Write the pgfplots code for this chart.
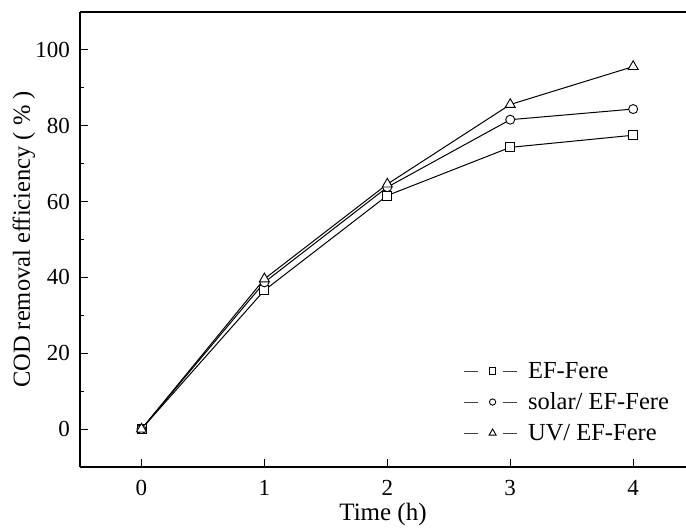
\documentclass[border=0pt]{standalone}
\usepackage{fontspec}
\setmainfont{Liberation Serif}
\usepackage{pgfplots}
\pgfplotsset{compat=1.18}

\begin{document}
\begin{tikzpicture}
\begin{axis}[
  scale only axis,
  width=606bp, height=455bp,
  xmin=-0.5, xmax=4.43, ymin=-10, ymax=110,
  axis x line=box, axis y line=left,
  x axis line style={-}, y axis line style={-},
  axis line style={line width=1.3bp},
  xtick={0,1,2,3,4}, ytick={0,20,40,60,80,100},
  minor y tick num=1,
  xtick pos=left, ytick pos=left,
  tick align=inside,
  major tick length=8bp, minor tick length=4bp,
  every tick/.style={line width=1bp, black},
  /pgf/number format/assume math mode=true,
  ticklabel style={font=\fontsize{23bp}{26bp}\selectfont, inner sep=0pt},
  xticklabel style={anchor=center, yshift=-21bp},
  yticklabel style={anchor=east, xshift=-10bp},
  xlabel={Time (h)},
  ylabel={COD removal efficiency ( \% )},
  every axis x label/.style={at={(rel axis cs:0.5,0)}, anchor=center, yshift=-47bp,
    font=\fontsize{25bp}{28bp}\selectfont, inner sep=0pt},
  every axis y label/.style={at={(rel axis cs:0,0.5)}, anchor=center, rotate=90, yshift=56bp,
    font=\fontsize{24.5bp}{28bp}\selectfont},
  legend style={at={(0.632,0.235)}, anchor=north west, draw=none, fill=none,
    font=\fontsize{24.5bp}{28bp}\selectfont, row sep=9bp, inner sep=0pt},
  legend cell align=left,
  legend image code/.code={
    \draw[#1,mark=none,black!75,line width=0.8bp] (0bp,0bp) -- (14bp,0bp);
    \draw[#1,mark=none,black!75,line width=0.8bp] (39bp,0bp) -- (53bp,0bp);
    \draw[#1,every mark/.append style={scale=0.7}] plot coordinates {(29bp,0bp)};
    \path (62bp,0bp);
  },
]
\addplot[black, line width=1bp, mark=square*, mark size=4.5bp,
  mark options={fill=white, draw=black, line width=0.9bp, solid}]
  coordinates {(0,0) (1,36.6) (2,61.6) (3,74.3) (4,77.5)};
\addlegendentry{EF-Fere}
\addplot[black, line width=1bp, mark=*, mark size=4.5bp,
  mark options={fill=white, draw=black, line width=0.9bp, solid}]
  coordinates {(0,0) (1,38.7) (2,63.8) (3,81.6) (4,84.4)};
\addlegendentry{solar/ EF-Fere}
\addplot[black, line width=1bp, mark=triangle*, mark size=5.8bp,
  mark options={fill=white, draw=black, line width=0.9bp, solid}]
  coordinates {(0,0) (1,39.6) (2,64.6) (3,85.6) (4,95.6)};
\addlegendentry{UV/ EF-Fere}
\coordinate (bl) at (rel axis cs:0,0);
\coordinate (tr) at (rel axis cs:1,1);
\end{axis}
\pgfresetboundingbox
\path[use as bounding box] ([xshift=-80bp,yshift=-61bp]bl) rectangle ([yshift=12bp]tr);
\end{tikzpicture}
\end{document}
